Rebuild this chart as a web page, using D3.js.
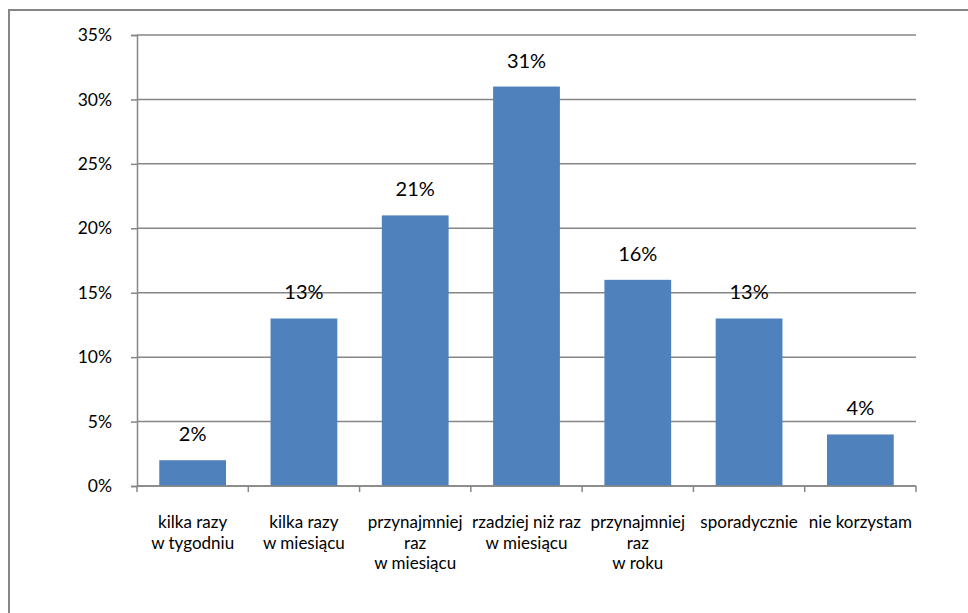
<!DOCTYPE html>
<html>
<head>
<meta charset="utf-8">
<script src="https://cdn.jsdelivr.net/npm/d3@7"></script>
<style>
  html, body { margin: 0; padding: 0; background: #fff; }
  svg { display: block; font-family: Lato, "Open Sans", sans-serif; }
</style>
</head>
<body>
<svg id="chart" width="968" height="613"></svg>
<script>
// Categories (multi-line labels) and their shares
const categories = [
  ["kilka razy", "w tygodniu"],
  ["kilka razy", "w miesiącu"],
  ["przynajmniej", "raz", "w miesiącu"],
  ["rzadziej niż raz", "w miesiącu"],
  ["przynajmniej", "raz", "w roku"],
  ["sporadycznie"],
  ["nie korzystam"]
];
const values = [2, 13, 21, 31, 16, 13, 4];
const yTicks = [0, 5, 10, 15, 20, 25, 30, 35];

const svg = d3.select("#chart");
const W = 968, H = 613;
const margin = { left: 137, right: 52, top: 35, bottom: 127 };
const grey = "#868686";

// Outer chart frame (runs off the right and bottom edges)
svg.append("path")
  .attr("d", `M9,${H + 5} L9,10 L${W + 5},10`)
  .attr("fill", "none")
  .attr("stroke", grey)
  .attr("stroke-width", 2);

const x = d3.scaleBand()
  .domain(d3.range(categories.length))
  .range([margin.left, W - margin.right])
  .paddingInner(0.4)
  .paddingOuter(0.2);

const y = d3.scaleLinear()
  .domain([0, 35])
  .range([H - margin.bottom, margin.top]);

// Horizontal gridlines
svg.append("g")
  .selectAll("line")
  .data(yTicks)
  .join("line")
  .attr("x1", margin.left)
  .attr("x2", W - margin.right)
  .attr("y1", d => y(d))
  .attr("y2", d => y(d))
  .attr("stroke", grey)
  .attr("stroke-width", 1.5);

// Y axis
const yAxis = svg.append("g")
  .attr("transform", `translate(${margin.left},0)`)
  .call(d3.axisLeft(y).tickValues(yTicks).tickFormat(d => d + "%").tickSize(6).tickPadding(19));
yAxis.select(".domain").attr("stroke", grey).attr("stroke-width", 1.5);
yAxis.selectAll(".tick line").attr("stroke", grey).attr("stroke-width", 1.5);
yAxis.selectAll(".tick text")
  .attr("fill", "#000")
  .style("font-size", "17.5px")
  .style("font-family", "Lato, 'Open Sans', sans-serif");

// Bars
svg.append("g")
  .selectAll("rect")
  .data(values)
  .join("rect")
  .attr("x", (d, i) => x(i))
  .attr("width", x.bandwidth())
  .attr("y", d => y(d))
  .attr("height", d => y(0) - y(d))
  .attr("fill", "#4F81BD");

// Value labels
svg.append("g")
  .selectAll("text")
  .data(values)
  .join("text")
  .attr("x", (d, i) => x(i) + x.bandwidth() / 2)
  .attr("y", d => y(d) - 19)
  .attr("text-anchor", "middle")
  .style("font-size", "20px")
  .attr("fill", "#000")
  .text(d => d + "%");

// X axis line with boundary ticks
const step = x.step();
const x0 = margin.left, x1 = W - margin.right;
const xBase = y(0);
svg.append("line")
  .attr("x1", x0).attr("x2", x1)
  .attr("y1", xBase).attr("y2", xBase)
  .attr("stroke", grey).attr("stroke-width", 1.5);
svg.append("g")
  .selectAll("line")
  .data(d3.range(categories.length + 1))
  .join("line")
  .attr("x1", i => x0 + i * step)
  .attr("x2", i => x0 + i * step)
  .attr("y1", xBase)
  .attr("y2", xBase + 6)
  .attr("stroke", grey).attr("stroke-width", 1.5);

// Category labels
const catG = svg.append("g");
categories.forEach((lines, i) => {
  const t = catG.append("text")
    .attr("text-anchor", "middle")
    .attr("fill", "#000")
    .style("font-size", "17px");
  lines.forEach((ln, j) => {
    t.append("tspan")
      .attr("x", x(i) + x.bandwidth() / 2)
      .attr("y", 528 + j * 20.5)
      .text(ln);
  });
});
</script>
</body>
</html>
